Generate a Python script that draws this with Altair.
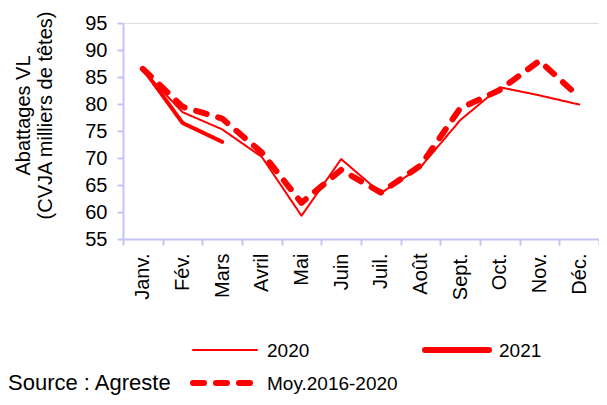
import altair as alt
import pandas as pd

months = ["Janv.", "Fév.", "Mars", "Avril", "Mai", "Juin", "Juil.", "Août", "Sept.", "Oct.", "Nov.", "Déc."]
series = ["2020", "2021", "Moy.2016-2020"]
v2020 = [86.2, 78.5, 75.3, 70.2, 59.3, 69.8, 63.5, 68.3, 77.0, 83.1, 81.6, 79.9]
v2021 = [86.6, 76.5, 73.0]
vmoy = [86.5, 79.5, 77.3, 71.0, 61.7, 67.8, 63.6, 68.6, 79.2, 82.6, 88.0, 81.3]
y_ticks = [55, 60, 65, 70, 75, 80, 85, 90, 95]
y_title = ["Abattages VL", "(CVJA milliers de têtes)"]
source_text = ["Source : Agreste"]

rows = []
for s, vals in zip(series, [v2020, v2021, vmoy]):
    for m, v in zip(months, vals):
        rows.append({"mois": m, "val": v, "serie": s})
df = pd.DataFrame(rows)

axis_color = "#c4c4f4"
red = "#ff0000"
font = "Liberation Sans"
dash_range = [[1, 0], [1, 0], [11, 12]]
width_range = [2, 6, 6]

lines = alt.Chart(df).mark_line(color=red, strokeCap="round", strokeJoin="round").encode(
    x=alt.X("mois:N", sort=months, title=None, bandPosition=0.5,
            scale=alt.Scale(type="band", paddingInner=0, paddingOuter=0),
            axis=alt.Axis(labelAngle=-90, labelFontSize=20, labelColor="black", labelPadding=8,
                          tickSize=6, tickBand="extent", domainColor=axis_color, tickColor=axis_color,
                          domainWidth=2, tickWidth=2, grid=False, labelFont=font)),
    y=alt.Y("val:Q", scale=alt.Scale(domain=[55, 95], nice=False, zero=False),
            axis=alt.Axis(values=y_ticks, title=y_title, titleFontSize=20, titleFontWeight="normal",
                          titleColor="black", titleFont=font, titleAngle=270, titleBaseline="top",
                          titleAlign="center", titleX=-110, titleY=92, titleLineHeight=22,
                          labelFontSize=20, labelColor="black", labelFont=font, labelPadding=10,
                          tickSize=6, domainColor=axis_color, tickColor=axis_color,
                          domainWidth=2, tickWidth=2, grid=False)),
    strokeDash=alt.StrokeDash("serie:N", scale=alt.Scale(domain=series, range=dash_range), legend=None),
    strokeWidth=alt.StrokeWidth("serie:N", scale=alt.Scale(domain=series, range=width_range), legend=None),
)

# legend entries (swatch + label), laid out like the original
legend_slots = [(70, 327), (302, 327), (70, 360)]
legend_layers = []
for i, name in enumerate(series):
    lx, ly = legend_slots[i]
    d = pd.DataFrame({"serie": [name]})
    legend_layers.append(
        alt.Chart(d).mark_rule(color=red, strokeCap="round", strokeWidth=width_range[i],
                               strokeDash=dash_range[i]).encode(
            x=alt.value(lx), x2=alt.value(lx + 57 if i == 2 else lx + 64), y=alt.value(ly))
    )
    legend_layers.append(
        alt.Chart(d).mark_text(align="left", baseline="middle", fontSize=19, font=font,
                               color="black").encode(
            text="serie:N", x=alt.value(lx + 74), y=alt.value(ly + 1))
    )

src = alt.Chart(pd.DataFrame({"t": source_text})).mark_text(
    align="left", baseline="alphabetic", fontSize=22, font=font, color="black"
).encode(text="t:N", x=alt.value(-115), y=alt.value(367))

chart = alt.layer(lines, *legend_layers, src).properties(
    width=476, height=216,
    autosize=alt.AutoSizeParams(type="none"),
    padding={"left": 115, "top": 15, "right": 0, "bottom": 158},
).configure_view(stroke=None).configure(font=font)

chart.save("out.html", embed_options={"renderer": "svg", "actions": False})
